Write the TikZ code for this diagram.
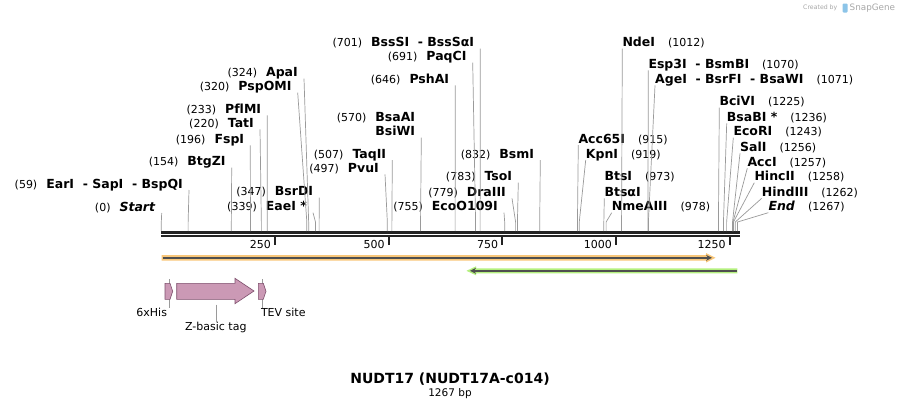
\documentclass[tikz,border=0pt]{standalone}
\usepackage{fontspec}
\setmainfont{DejaVu Sans}[Ligatures=CommonOff]
\usepackage{tikz}
\usetikzlibrary{positioning,arrows.meta,calc}
\definecolor{ruler1}{HTML}{222222}
\definecolor{lead1}{HTML}{9A9A9A}
\definecolor{orange1}{HTML}{F9C77A}
\definecolor{green1}{HTML}{B4F07E}
\definecolor{dark1}{HTML}{4F4F4F}
\definecolor{mauve1}{HTML}{CB99B5}
\definecolor{mauve2}{HTML}{7D4E6C}
\definecolor{wm1}{HTML}{A8A8A8}
\definecolor{logo1}{HTML}{8CC4E8}

\newcommand{\bpn}[1]{{\mdseries\fontsize{11}{13}\selectfont(#1)}}
\newcommand{\gapL}{\hspace{9pt}}
\newcommand{\gapR}{\hspace{13pt}}

\begin{document}
\begin{tikzpicture}[
    x=1pt, y=-1pt,
    declare function={sitex(\n)=161.3+0.4548*\n;},
    cut/.style={font=\bfseries\fontsize{12.5}{14}\selectfont, inner sep=0pt},
    cutL/.style={cut, anchor=base east},
    cutR/.style={cut, anchor=base west},
    leader/.style={draw=lead1, line width=0.7pt},
    ticklbl/.style={anchor=east, inner sep=0pt,
                    font=\fontsize{11}{13}\selectfont},
    featlbl/.style={inner sep=0pt, font=\fontsize{11}{13}\selectfont},
    featbox/.style={fill=mauve1, draw=mauve2, line width=0.6pt},
    featline/.style={draw=dark1, line width=2pt},
]
\useasboundingbox (0,0) rectangle (901,410);
\fill[white] (0,0) rectangle (901,410);

% ── sites on the ruler ──
\foreach \p in {0,59,154,196,220,233,320,324,339,347,497,507,570,646,691,
                701,755,779,783,832,915,919,973,978,1012,1070,1071,1225,
                1236,1243,1256,1257,1258,1262,1267}
    \coordinate (s\p) at ({sitex(\p)},231);

% ── ruler ──
\coordinate (r0) at (161.3,232.3);
\coordinate (r1) at (740,232.3);
\draw[ruler1, line width=2.7pt] (r0) -- (r1);
\draw[ruler1, line width=2.3pt] ([yshift=-3.9pt]r0) -- ([yshift=-3.9pt]r1);
\foreach \t in {250,500,750,1000,1250} {
    \draw[ruler1, line width=2pt] ({sitex(\t)},236) -- ({sitex(\t)},244.5);
    \node[ticklbl] (t\t) at ({sitex(\t)-4},244.5) {\t};
}

% ── enzymes left of their sites ──
\node[cutL] (start) at (155.7,211) {\bpn{0}\gapL\textit{Start}};
\node[cutL] (earI) at (183,188) {\bpn{59}\gapL EarI\ \ - SapI\ \ - BspQI};
\node[cutL] (btgZI) at (225.7,165.7) {\bpn{154}\gapL BtgZI};
\node[cutL] (fspI) at (244.3,143.3) {\bpn{196}\gapL FspI};
\node[cutL] (tatI) at (254,127.3) {\bpn{220}\gapL TatI};
\node[cutL] (pflMI) at (261.3,113.3) {\bpn{233}\gapL PflMI};
\node[cutL] (pspOMI) at (291.7,90.7) {\bpn{320}\gapL PspOMI};
\node[cutL] (apaI) at (298,76.7) {\bpn{324}\gapL ApaI};
\node[cutL] (eaeI) at (307,210.7) {\bpn{339}\gapL EaeI *};
\node[cutL] (bsrDI) at (313.3,195.7) {\bpn{347}\gapL BsrDI};
\node[cutL] (pvuI) at (379,172.3) {\bpn{497}\gapL PvuI};
\node[cutL] (taqII) at (386.3,158) {\bpn{507}\gapL TaqII};
\node[cutL] (bsaAI) at (415.3,121.3) {\bpn{570}\gapL BsaAI};
\node[cutL] (bsiWI) at (415.3,135.7) {BsiWI};
\node[cutL] (pshAI) at (449.3,83.3) {\bpn{646}\gapL PshAI};
\node[cutL] (paqCI) at (466.7,60.7) {\bpn{691}\gapL PaqCI};
\node[cutL] (bssSI) at (474.3,46.7) {\bpn{701}\gapL BssSI\ \ - BssSαI};
\node[cutL] (ecoO) at (498,210.7) {\bpn{755}\gapL EcoO109I};
\node[cutL] (draIII) at (506,196.3) {\bpn{779}\gapL DraIII};
\node[cutL] (tsoI) at (512.3,180.7) {\bpn{783}\gapL TsoI};
\node[cutL] (bsmI) at (534.3,158) {\bpn{832}\gapL BsmI};

\foreach \n/\p in {start/0,earI/59,btgZI/154,fspI/196,tatI/220,pflMI/233,
                   pspOMI/320,apaI/324,eaeI/339,bsrDI/347,pvuI/497,
                   taqII/507,bsiWI/570,pshAI/646,paqCI/691,bssSI/701,
                   ecoO/755,draIII/779,tsoI/783,bsmI/832}
    \draw[leader] ([xshift=6pt,yshift=-2pt]\n.base east)
        -- ([yshift=9pt]s\p) -- (s\p);

% ── enzymes right of their sites ──
\node[cutR] (ndeI) at (622.3,46.7) {NdeI\gapR\bpn{1012}};
\node[cutR] (esp3I) at (648.3,68.3) {Esp3I\ \ - BsmBI\gapR\bpn{1070}};
\node[cutR] (ageI) at (655,83.3) {AgeI\ \ - BsrFI\ \ - BsaWI\gapR\bpn{1071}};
\node[cutR] (acc65I) at (578.3,143) {Acc65I\gapR\bpn{915}};
\node[cutR] (kpnI) at (585.7,158) {KpnI\gapR\bpn{919}};
\node[cutR] (btsI) at (604.3,180.7) {BtsI\gapR\bpn{973}};
\node[cutR] (btsaI) at (604.3,196.3) {BtsαI};
\node[cutR] (nmeAIII) at (611.7,210.7) {NmeAIII\gapR\bpn{978}};
\node[cutR] (bciVI) at (719.3,105.7) {BciVI\gapR\bpn{1225}};
\node[cutR] (bsaBI) at (726.7,121.3) {BsaBI *\gapR\bpn{1236}};
\node[cutR] (ecoRI) at (733.3,135.7) {EcoRI\gapR\bpn{1243}};
\node[cutR] (salI) at (740,151.3) {SalI\gapR\bpn{1256}};
\node[cutR] (accI) at (747.3,166.3) {AccI\gapR\bpn{1257}};
\node[cutR] (hincII) at (754.3,180.7) {HincII\gapR\bpn{1258}};
\node[cutR] (hindIII) at (761.7,196.3) {HindIII\gapR\bpn{1262}};
\node[cutR] (endL) at (768.3,210.7) {\textit{End}\gapR\bpn{1267}};

\foreach \n/\p in {ndeI/1012,esp3I/1070,ageI/1071,acc65I/915,kpnI/919,
                   btsaI/973,nmeAIII/978,bciVI/1225,bsaBI/1236,ecoRI/1243,
                   salI/1256,accI/1257,hincII/1258,hindIII/1262,endL/1267}
    \draw[leader] ([yshift=-2pt]\n.base west)
        -- ([yshift=9pt]s\p) -- (s\p);

% ── features ──
\fill[orange1] (161.7,255) -- (706,255) -- (706,253) -- (715.5,257.8)
    -- (706,262.6) -- (706,260.6) -- (161.7,260.6) -- cycle;
\draw[featline, -{Stealth[length=6pt,width=6pt]}]
    (162.5,257.8) -- (712,257.8);
\fill[green1] (737.3,268.3) -- (476,268.3) -- (476,266.3) -- (466.5,270.8)
    -- (476,275.3) -- (476,273.3) -- (737.3,273.3) -- cycle;
\draw[featline, -{Stealth[length=6pt,width=6pt]}]
    (736.5,270.8) -- (470,270.8);

% 6xHis
\coordinate (hisTop) at (169.3,279);
\node[featlbl] (hisLbl) at (151.7,312.3) {6xHis};
\draw[leader] (hisTop) -- (hisTop |- hisLbl.north);
\draw[featbox] (165,283.3) -- (170,283.3) -- (172.7,291.3) -- (170,299.3)
    -- (165,299.3) -- cycle;
% Z-basic tag
\draw[featbox] (176.7,283.3) -- (235,283.3) -- (235,278.3) -- (254,291)
    -- (235,303.7) -- (235,299.3) -- (176.7,299.3) -- cycle;
\coordinate (zTag) at (216.5,304.5);
\node[featlbl] (zLbl) at (215.8,327.3) {Z-basic tag};
\draw[leader] (zTag) -- (zTag |- zLbl.north);
% TEV site
\coordinate (tevTop) at (262.7,279);
\node[featlbl] (tevLbl) at (283.3,312.3) {TEV site};
\draw[leader] (tevTop) -- (tevTop |- tevLbl.north);
\draw[featbox] (258.3,283.3) -- (263.3,283.3) -- (266,291.3) -- (263.3,299.3)
    -- (258.3,299.3) -- cycle;

% ── title ──
\node[font=\bfseries\fontsize{14}{16}\selectfont] (title) at (450,379)
    {NUDT17 (NUDT17A-c014)};
\node[font=\fontsize{10.5}{12}\selectfont] (size) at (450,394) {1267 bp};

% ── watermark ──
\node[anchor=west, inner sep=0pt, text=wm1,
      font=\fontsize{6.2}{7}\selectfont] (wmA) at (803,8) {Created by};
\fill[logo1, rounded corners=1pt] (842.5,3.5) rectangle (847.5,12.5);
\node[anchor=west, inner sep=0pt, text=wm1,
      font=\fontsize{8.8}{10}\selectfont] (wmB) at (849.5,8) {SnapGene};

\end{tikzpicture}
\end{document}
